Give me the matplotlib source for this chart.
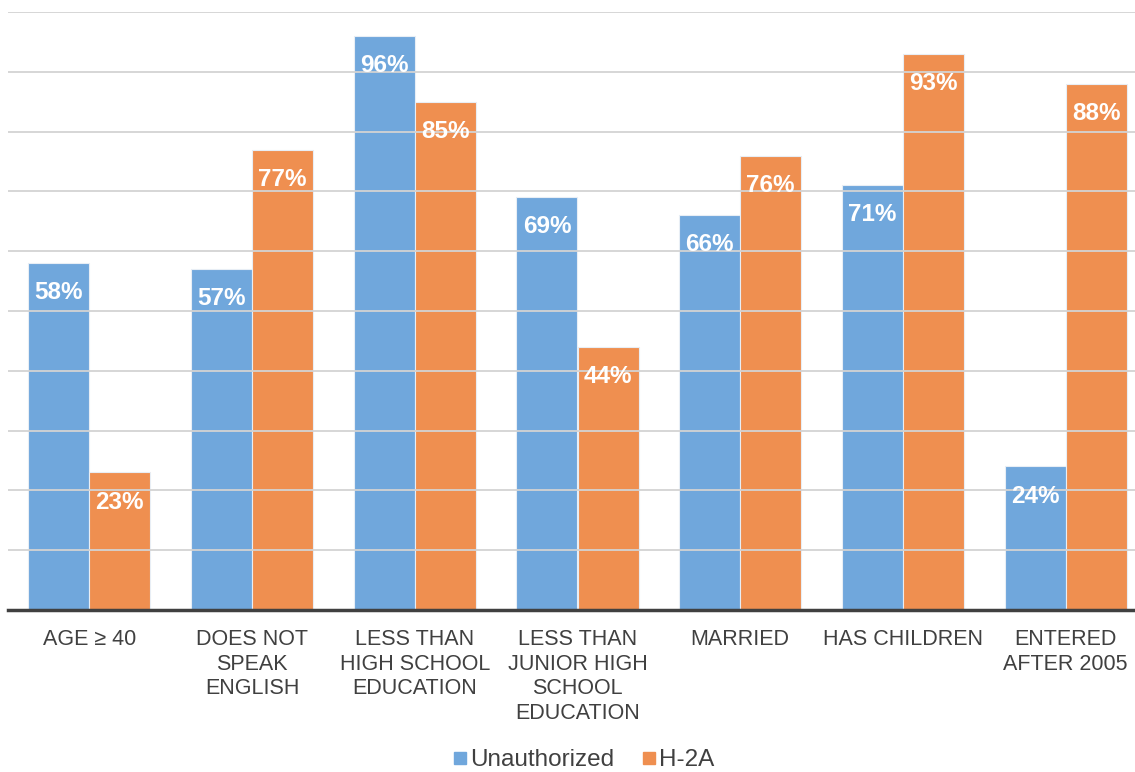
import numpy as np
import matplotlib
matplotlib.use("Agg")
import matplotlib.pyplot as plt
from matplotlib.lines import Line2D

plt.rcParams['font.family'] = ['Liberation Sans', 'DejaVu Sans']

# datos
categorias = ["AGE ≥ 40", "DOES NOT\nSPEAK\nENGLISH", "LESS THAN\nHIGH SCHOOL\nEDUCATION",
              "LESS THAN\nJUNIOR HIGH\nSCHOOL\nEDUCATION", "MARRIED", "HAS CHILDREN",
              "ENTERED\nAFTER 2005"]
unauthorized = [58, 57, 96, 69, 66, 71, 24]
h2a = [23, 77, 85, 44, 76, 93, 88]
series = ["Unauthorized", "H-2A"]
colores = ["#70a7dc", "#ef8f50"]

fig = plt.figure(figsize=(11.35, 7.72), dpi=100)
ax = fig.add_axes([8 / 1135, 1 - 610 / 772, 1139 / 1135, (610 - 12) / 772])

x = np.arange(len(categorias))
ancho = 0.375
for i, (vals, nombre, color) in enumerate(zip([unauthorized, h2a], series, colores)):
    pos = x + (i - 0.5) * ancho
    barras = ax.bar(pos, vals, ancho, color=color, edgecolor="#e8eef5", linewidth=0.8,
                    label=nombre, zorder=1)
    for b, v in zip(barras, vals):
        ax.annotate(f"{v}%", (b.get_x() + b.get_width() / 2, v), xytext=(0, -13),
                    textcoords="offset points", ha="center", va="top",
                    color="white", fontsize=17.5, fontweight="bold", zorder=3)

ax.set_xlim(-0.5, len(categorias) - 0.5)
ax.set_ylim(0, 100)
ax.set_yticks(np.arange(10, 101, 10))
ax.yaxis.grid(True, color="#d3d3d3", linewidth=1.3, zorder=2)
ax.set_axisbelow(False)
ax.tick_params(axis="y", left=False, labelleft=False)
ax.tick_params(axis="x", length=0, pad=14, labelsize=15.5, labelcolor="#404040")
ax.set_xticks(x)
ax.set_xticklabels(categorias, linespacing=1.22, va="top")
for s in ["top", "right", "left"]:
    ax.spines[s].set_visible(False)
ax.spines["bottom"].set_color("#404040")
ax.spines["bottom"].set_linewidth(2.5)
ax.spines["bottom"].set_zorder(4)

handles = [Line2D([], [], marker="s", linestyle="none", markersize=8, color=c) for c in colores]
fig.legend(handles, series, loc="center", bbox_to_anchor=(583 / 1135, 1 - 760 / 772),
           ncol=2, frameon=False, fontsize=17.5, handletextpad=0.05, columnspacing=1.1,
           labelcolor="#404040", handlelength=0.7)

fig.savefig("out.png", dpi=100)
